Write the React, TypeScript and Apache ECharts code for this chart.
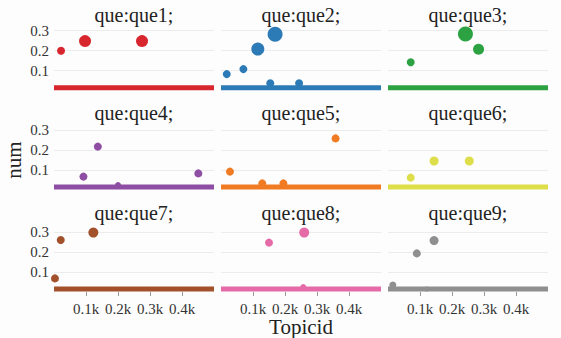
import React, { useEffect, useRef } from 'react';
import * as echarts from 'echarts';

// panel names and colours
const panelNames = ['que1', 'que2', 'que3', 'que4', 'que5', 'que6', 'que7', 'que8', 'que9'];
const panelColors = ['#d7262e', '#2d7bb6', '#2ca243', '#8e4ea3', '#f07b22', '#dede4a', '#a3512b', '#e56aa8', '#8f8f8f'];

// [Topicid, num, markerSize]
const que1 = [[22, 0.2, 8], [97, 0.248, 12], [275, 0.248, 12]];
const que2 = [[18, 0.083, 8], [70, 0.108, 8], [115, 0.208, 13], [169, 0.282, 15], [154, 0.037, 8], [244, 0.037, 8]];
const que3 = [[71, 0.142, 8], [242, 0.284, 15], [283, 0.207, 11]];
const que4 = [[92, 0.067, 8], [137, 0.217, 8], [451, 0.083, 8], [200, 0.025, 6]];
const que5 = [[28, 0.092, 8], [358, 0.258, 8], [129, 0.033, 8], [195, 0.033, 8]];
const que6 = [[71, 0.062, 8], [144, 0.145, 9], [254, 0.145, 9]];
const que7 = [[21, 0.26, 8], [123, 0.297, 10], [3, 0.068, 8]];
const que8 = [[150, 0.247, 8], [260, 0.297, 10], [257, 0.025, 6]];
const que9 = [[90, 0.193, 8], [144, 0.257, 9], [15, 0.035, 7], [121, 0.015, 5]];
const panelData = [que1, que2, que3, que4, que5, que6, que7, que8, que9];

// dense run of near-zero values drawn as a band
const bandTopicids = [0, 500];
const bandNum = 0.015;

// axis ticks
const xTicks = { min: 0, max: 500, interval: 100 };
const yTicks = { min: 0, max: 0.33, interval: 0.1 };

const FONT = "'Liberation Serif', 'Times New Roman', serif";

export default function App() {
  const ref = useRef<HTMLDivElement>(null);
  useEffect(() => {
    if (!ref.current) return;
    const chart = echarts.init(ref.current, undefined, { renderer: 'svg' });
    const colLeft = [54, 221, 388];
    const rowTop = [24.7, 124, 226];
    const W = 160;
    const H = 66;
    const grids: any[] = [];
    const xAxes: any[] = [];
    const yAxes: any[] = [];
    const series: any[] = [];
    const graphics: any[] = [];
    const titleY = [15, 113, 213];
    panelNames.forEach((name, i) => {
      const r = Math.floor(i / 3);
      const c = i % 3;
      grids.push({ left: colLeft[c], top: rowTop[r], width: W, height: H, containLabel: false });
      xAxes.push({
        gridIndex: i,
        type: 'value',
        min: xTicks.min,
        max: xTicks.max,
        interval: xTicks.interval,
        axisLine: { show: false },
        axisTick: { show: r === 2, length: 4, lineStyle: { color: '#999' } },
        axisLabel: {
          show: r === 2,
          margin: 9,
          fontSize: 15,
          fontFamily: FONT,
          color: '#333',
          showMinLabel: false,
          showMaxLabel: false,
          formatter: (v: number) => (v === 0 || v === 500 ? '' : `${+(v / 1000).toFixed(1)}k`),
        },
        splitLine: { show: false },
      });
      yAxes.push({
        gridIndex: i,
        type: 'value',
        min: yTicks.min,
        max: yTicks.max,
        interval: yTicks.interval,
        axisLine: { show: false },
        axisTick: { show: false },
        axisLabel: {
          show: c === 0,
          margin: 5,
          fontSize: 15,
          fontFamily: FONT,
          color: '#333',
          showMinLabel: false,
          showMaxLabel: false,
          formatter: (v: number) => (v < 0.05 || v > 0.31 ? '' : v.toFixed(1)),
        },
        splitLine: { show: true, showMinLine: false, showMaxLine: false, lineStyle: { color: '#ececec', width: 1 } },
      });
      series.push({
        type: 'line',
        xAxisIndex: i,
        yAxisIndex: i,
        data: bandTopicids.map((x) => [x, bandNum]),
        symbol: 'none',
        lineStyle: { color: panelColors[i], width: 5 },
        z: 2,
      });
      series.push({
        type: 'scatter',
        xAxisIndex: i,
        yAxisIndex: i,
        data: panelData[i],
        symbolSize: (v: number[]) => v[2],
        itemStyle: { color: panelColors[i], opacity: 1 },
        z: 3,
      });
      graphics.push({
        type: 'text',
        x: colLeft[c] + W / 2,
        y: titleY[r],
        style: {
          text: `que:${name};`,
          align: 'center',
          verticalAlign: 'middle',
          textAlign: 'center',
          textVerticalAlign: 'middle',
          fontSize: 20,
          fontFamily: FONT,
          fill: '#222',
        },
      });
    });
    graphics.push({
      type: 'text',
      x: 301,
      y: 327,
      style: { text: 'Topicid', align: 'center', verticalAlign: 'middle', textAlign: 'center', textVerticalAlign: 'middle', fontSize: 21, fontFamily: FONT, fill: '#222' },
    });
    graphics.push({
      type: 'text',
      x: 14,
      y: 160,
      rotation: Math.PI / 2,
      style: { text: 'num', align: 'center', verticalAlign: 'middle', textAlign: 'center', textVerticalAlign: 'middle', fontSize: 21, fontFamily: FONT, fill: '#222' },
    });
    chart.setOption({
      animation: false,
      backgroundColor: '#fdfdfd',
      textStyle: { fontFamily: FONT },
      grid: grids,
      xAxis: xAxes,
      yAxis: yAxes,
      series,
      graphic: graphics,
    });
    return () => chart.dispose();
  }, []);
  return <div ref={ref} style={{ position: 'fixed', left: 0, top: 0, width: 561, height: 338 }} />;
}
